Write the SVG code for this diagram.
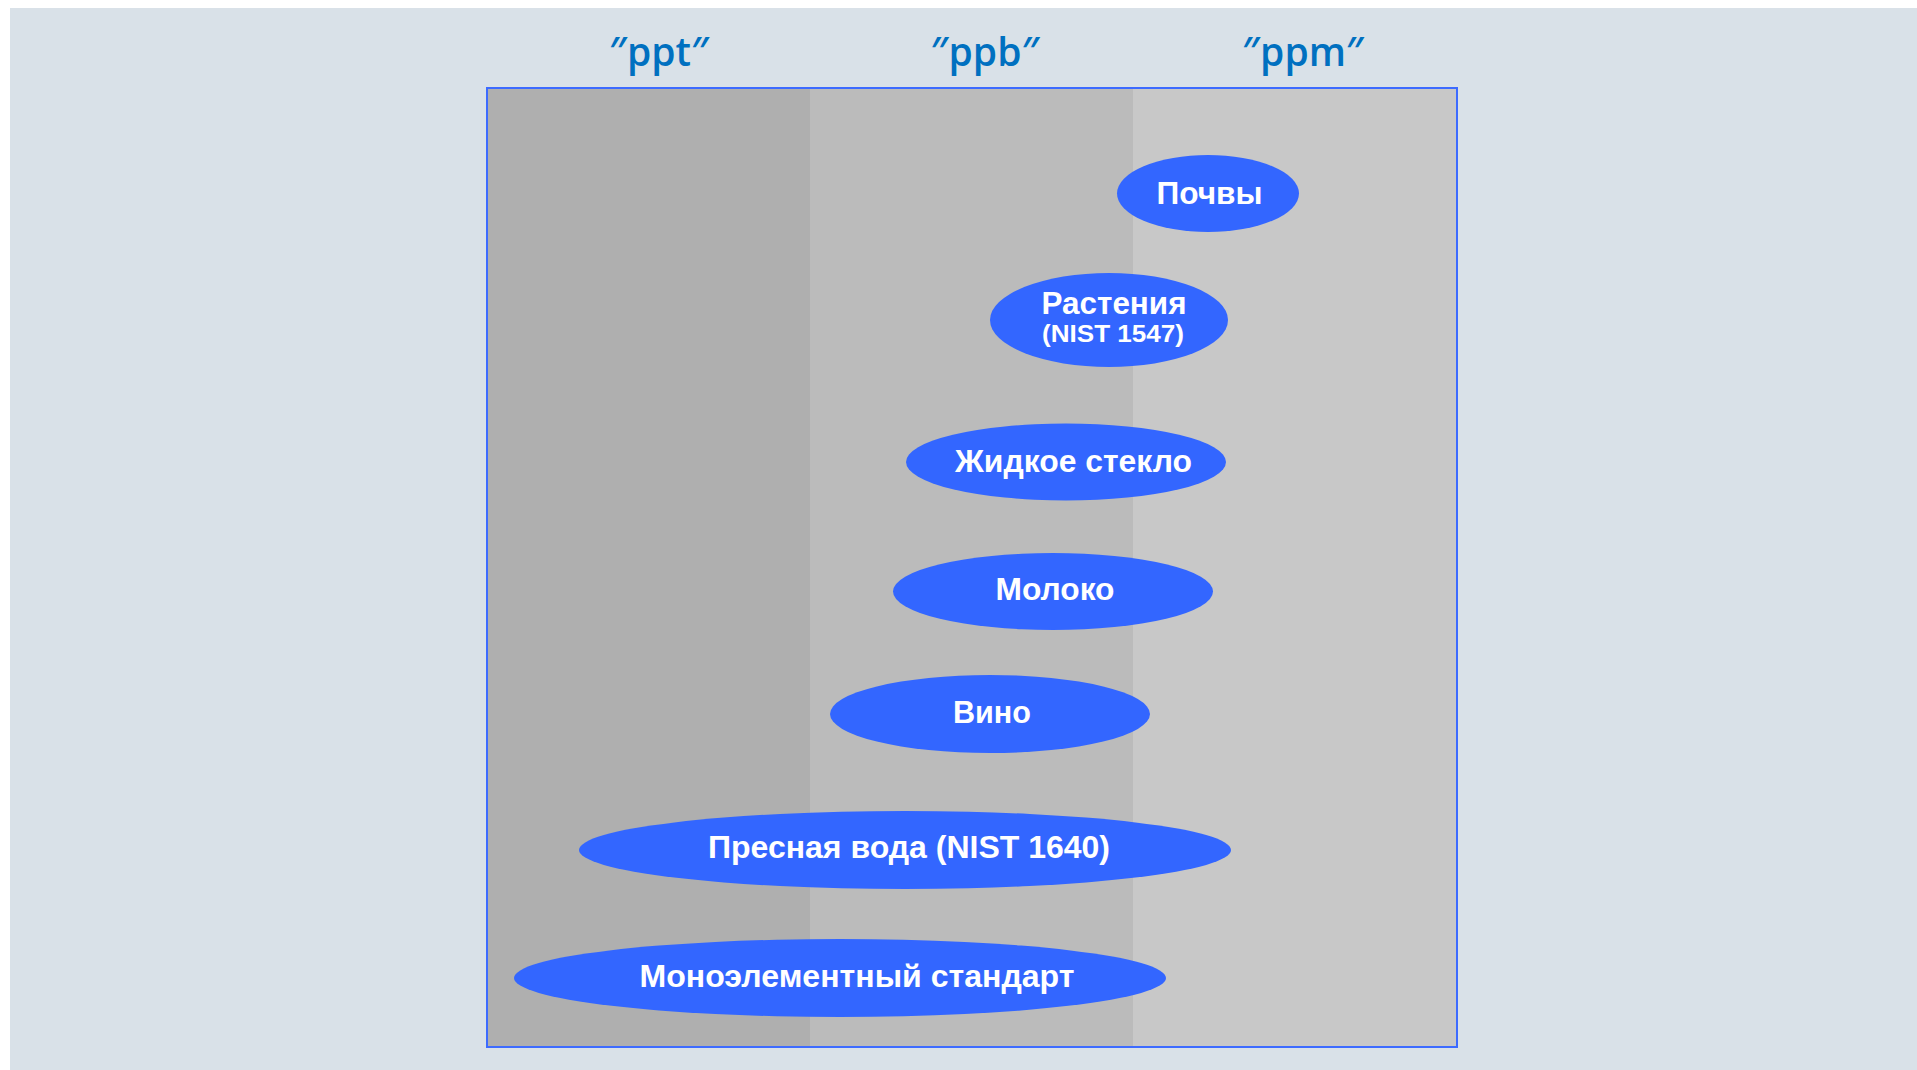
<svg xmlns="http://www.w3.org/2000/svg" width="1917" height="1070" viewBox="0 0 1917 1070">
  <style>
    .hdr { font-family: "Open Sans", "Noto Sans", sans-serif; font-weight: 600; font-size: 39px; fill: #0070c0; text-anchor: middle; }
    .node ellipse { fill: #3366ff; }
    .lbl { font-family: "Liberation Sans", Arial, sans-serif; font-weight: bold; font-size: 31px; fill: #ffffff; text-anchor: middle; }
    .sub { font-size: 23.5px; }
  </style>
  <rect x="0" y="0" width="1917" height="1070" fill="#ffffff"/>
  <rect x="10" y="8" width="1907" height="1062" fill="#d9e1e8"/>

  <g id="columns">
    <rect x="487" y="88" width="323" height="959" fill="#afafaf"/>
    <rect x="810" y="88" width="323" height="959" fill="#bbbbbb"/>
    <rect x="1133" y="88" width="324" height="959" fill="#c8c8c8"/>
    <rect x="487" y="88" width="970" height="959" fill="none" stroke="#3d6bff" stroke-width="2"/>
  </g>

  <g id="headers">
    <text class="hdr" x="659" y="66">″ppt″</text>
    <text class="hdr" x="985" y="66">″ppb″</text>
    <text class="hdr" x="1303" y="66">″ppm″</text>
  </g>

  <g id="connectors"></g>

  <g id="node-pochvy" class="node">
    <ellipse cx="1208" cy="193.5" rx="91" ry="38.5"/>
    <text class="lbl" x="1209.5" y="203.5" textLength="106" lengthAdjust="spacingAndGlyphs">Почвы</text>
  </g>
  <g id="node-rasteniya" class="node">
    <ellipse cx="1109" cy="320" rx="119" ry="47"/>
    <text class="lbl" x="1114" y="314" textLength="145" lengthAdjust="spacingAndGlyphs">Растения</text>
    <text class="lbl sub" x="1113" y="341.5" textLength="142" lengthAdjust="spacingAndGlyphs">(NIST 1547)</text>
  </g>
  <g id="node-steklo" class="node">
    <ellipse cx="1066" cy="462" rx="160" ry="38.5"/>
    <text class="lbl" x="1073.5" y="472" textLength="237" lengthAdjust="spacingAndGlyphs">Жидкое стекло</text>
  </g>
  <g id="node-moloko" class="node">
    <ellipse cx="1053" cy="591.5" rx="160" ry="38.5"/>
    <text class="lbl" x="1055" y="600" textLength="119" lengthAdjust="spacingAndGlyphs">Молоко</text>
  </g>
  <g id="node-vino" class="node">
    <ellipse cx="990" cy="714" rx="160" ry="39"/>
    <text class="lbl" x="992" y="722.5" textLength="78" lengthAdjust="spacingAndGlyphs">Вино</text>
  </g>
  <g id="node-voda" class="node">
    <ellipse cx="905" cy="850" rx="326" ry="39"/>
    <text class="lbl" x="909" y="858" textLength="402" lengthAdjust="spacingAndGlyphs">Пресная вода (NIST 1640)</text>
  </g>
  <g id="node-mono" class="node">
    <ellipse cx="840" cy="978" rx="326" ry="39"/>
    <text class="lbl" x="857" y="986.5" textLength="435" lengthAdjust="spacingAndGlyphs">Моноэлементный стандарт</text>
  </g>
</svg>
